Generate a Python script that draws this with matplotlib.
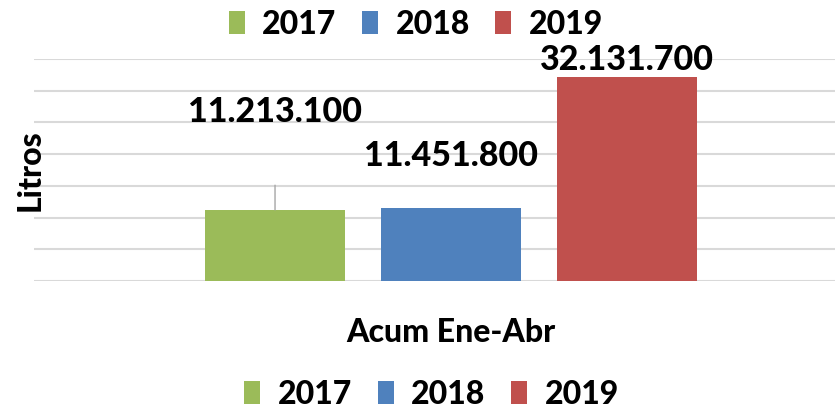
import matplotlib
matplotlib.use("Agg")
import matplotlib.pyplot as plt
from matplotlib.patches import Patch

years = ["2017", "2018", "2019"]
values = [11213100, 11451800, 32131700]
labels = ["11.213.100", "11.451.800", "32.131.700"]
colors = ["#9BBB59", "#4F81BD", "#C0504D"]
category = "Acum Ene-Abr"
ylabel = "Litros"

FW = 900
FS = 23
FS_LAB = 24.5
plt.rcParams['font.family'] = ['Lato', 'DejaVu Sans']
plt.rcParams['font.weight'] = FW

W, H = 835, 414
fig = plt.figure(figsize=(W / 100, H / 100), dpi=100)
ax = fig.add_axes([34 / W, (H - 282) / H, 834 / W, 222 / H])

offsets = [-0.211, 0.0, 0.211]
bw = 0.168
bars = []
for off, v, c in zip(offsets, values, colors):
    bars.append(ax.bar(off, v, width=bw, color=c, zorder=3)[0])

ax.set_xlim(-0.5, 0.5)
ax.set_ylim(0, 35e6)
ax.set_yticks([i * 5e6 for i in range(8)])
ax.set_yticklabels([])
ax.set_xticks([])
ax.tick_params(length=0)
ax.grid(axis='y', color='#d9d9d9', linewidth=1.5, zorder=0)
for s in ax.spines.values():
    s.set_visible(False)

label_off = [99, 53, 18]
for b, lab, dy in zip(bars, labels, label_off):
    x = b.get_x() + b.get_width() / 2
    y = b.get_height()
    if dy > 80:
        ax.annotate(lab, xy=(x, y), xytext=(0, dy), textcoords='offset pixels',
                    ha='center', va='center', fontsize=FS_LAB, fontweight=FW,
                    arrowprops=dict(arrowstyle='-', color='#a6a6a6', lw=1,
                                    shrinkA=40, shrinkB=0), zorder=5)
    else:
        ax.annotate(lab, xy=(x, y), xytext=(0, dy), textcoords='offset pixels',
                    ha='center', va='center', fontsize=FS_LAB, fontweight=FW, zorder=5)

fig.text(30 / W, 1 - 170 / H, ylabel, rotation=90, ha='center', va='center',
         fontsize=FS, fontweight=FW)
fig.text(451 / W, 1 - 333 / H, category, ha='center', va='center',
         fontsize=FS, fontweight=FW)

handles = [Patch(facecolor=c, label=y) for c, y in zip(colors, years)]
for ycen, xc in [(1 - 25 / H, 0.498), (1 - 395 / H, 0.517)]:
    fig.legend(handles=handles, loc='center', bbox_to_anchor=(xc, ycen),
               ncol=3, frameon=False, prop={'weight': FW, 'size': FS},
               handlelength=0.5, handleheight=0.75, handletextpad=0.55, columnspacing=0.8)

fig.savefig("out.png", dpi=100)
